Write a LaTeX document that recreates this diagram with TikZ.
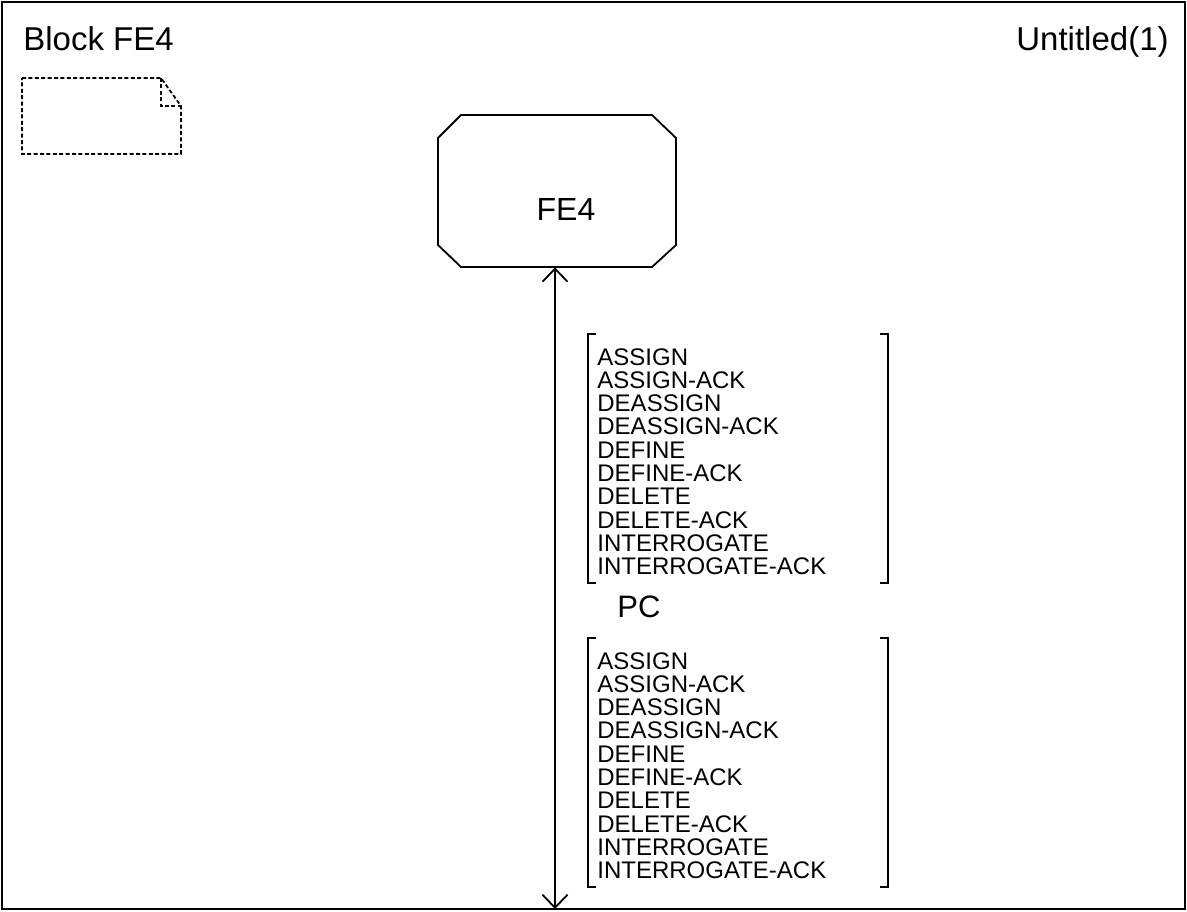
\documentclass[tikz,border=0pt]{standalone}
\usepackage{fontspec}
\setmainfont{Liberation Sans}
\usetikzlibrary{arrows.meta}
\tikzset{
  frameline/.style={line width=1.2pt},
  shapeline/.style={line width=0.9pt},
  noteline/.style={line width=0.9pt, dash pattern=on 2pt off 1.2pt},
  bigtext/.style={inner sep=0pt, font=\fontsize{16.5}{19}\selectfont},
  nametext/.style={inner sep=0pt, font=\fontsize{16}{19}\selectfont},
  msg/.style={inner sep=0pt, anchor=base west, font=\fontsize{12}{12}\selectfont},
  sigarrow/.style={line width=0.9pt, {Straight Barb[length=6.5pt,width=12.5pt]}-{Straight Barb[length=6.5pt,width=12.5pt]}},
  bracketline/.style={line width=0.9pt}
}
\begin{document}
\begin{tikzpicture}[x=0.5pt,y=-0.5pt]
\useasboundingbox (0,0) rectangle (1187,911);
% frame
\draw[frameline] (2,2) rectangle (1185,909);
% header texts
\node[bigtext, anchor=base west] (title) at (23,50) {Block FE4};
\node[bigtext, anchor=base east] (page) at (1169,50) {Untitled(1)};
% dashed note
\draw[noteline] (22,78) -- (161,78) -- (181,106) -- (181,154) -- (22,154) -- cycle;
\draw[noteline] (161,78) -- (161,106) -- (181,106);
% FE4 block
\node[minimum width=119pt, minimum height=76pt, inner sep=0pt] (fe4) at (557,191) {};
\draw[shapeline] (438,138) -- (461,115) -- (652,115) -- (676,138) -- (676,245) -- (652,267) -- (461,267) -- (438,245) -- cycle;
\node[nametext, anchor=base] (fe4name) at (566,220) {FE4};
% channel
\coordinate (bot) at (555,909);
\draw[sigarrow] (fe4.south -| bot) -- (bot);
% first signal list
\draw[bracketline] (596,334) -- (588,334) -- (588,583) -- (596,583);
\draw[bracketline] (880,334) -- (888,334) -- (888,583) -- (880,583);
\foreach \t [count=\i] in {ASSIGN,ASSIGN-ACK,DEASSIGN,DEASSIGN-ACK,DEFINE,DEFINE-ACK,DELETE,DELETE-ACK,INTERROGATE,INTERROGATE-ACK}
  \node[msg] (a\i) at (597,{365+23.3*(\i-1)}) {\t};
% channel name
\node[anchor=base west, inner sep=0pt, font=\fontsize{15.5}{18}\selectfont] (pc) at (617,617) {PC};
% second signal list
\draw[bracketline] (596,638) -- (588,638) -- (588,887) -- (596,887);
\draw[bracketline] (880,638) -- (888,638) -- (888,887) -- (880,887);
\foreach \t [count=\i] in {ASSIGN,ASSIGN-ACK,DEASSIGN,DEASSIGN-ACK,DEFINE,DEFINE-ACK,DELETE,DELETE-ACK,INTERROGATE,INTERROGATE-ACK}
  \node[msg] (b\i) at (597,{669+23.3*(\i-1)}) {\t};
\end{tikzpicture}
\end{document}
